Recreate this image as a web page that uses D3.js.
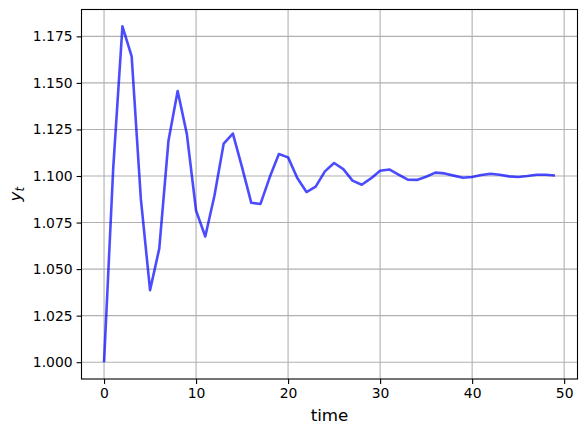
<!DOCTYPE html>
<html>
<head>
<meta charset="utf-8">
<script src="https://cdn.jsdelivr.net/npm/d3@7"></script>
<style>
  body { margin: 0; background: #fff; }
  svg text { font-family: "DejaVu Sans", sans-serif; fill: #000; }
</style>
</head>
<body>
<div id="chart"></div>
<script>
// series values, t = 0..49
const timeSteps = d3.range(0, 50);
const yValues = [
  1.000, 1.1045, 1.1804, 1.1643, 1.0877, 1.0387, 1.0610, 1.1189, 1.1456, 1.1225,
  1.0814, 1.0675, 1.0895, 1.1174, 1.1228, 1.1046, 1.0856, 1.0850, 1.0993, 1.1118,
  1.1100, 1.0989, 1.0914, 1.0943, 1.1025, 1.1070, 1.1037, 1.0975, 1.0953, 1.0987,
  1.1028, 1.1035, 1.1007, 1.0980, 1.0979, 1.0996, 1.1018, 1.1014, 1.1002, 1.0991,
  1.0995, 1.1005, 1.1012, 1.1007, 1.0998, 1.0995, 1.1000, 1.1007, 1.1007, 1.1003
];
const xTicks = [0, 10, 20, 30, 40, 50];
const yTicks = [1.000, 1.025, 1.050, 1.075, 1.100, 1.125, 1.150, 1.175];

let width = 587,
    height = 433,
    margin = ({ top: 9.5, right: 9.5, bottom: 54, left: 81.5 });

const svg = d3.select("#chart")
    .append("svg")
    .attr("width", width)
    .attr("height", height);

const data = timeSteps.map((t, i) => ({ t: t, y: yValues[i] }));

// matplotlib style 5% padding around the data
let xPad = (d3.max(timeSteps) - d3.min(timeSteps)) * 0.05;
let yPad = (d3.max(yValues) - d3.min(yValues)) * 0.05;

let x = d3.scaleLinear()
    .domain([d3.min(timeSteps) - xPad, d3.max(timeSteps) + xPad])
    .range([margin.left, width - margin.right]);

let y = d3.scaleLinear()
    .domain([d3.min(yValues) - yPad, d3.max(yValues) + yPad])
    .range([height - margin.bottom, margin.top]);

// grid
svg.append("g")
    .selectAll("line")
    .data(xTicks)
    .join("line")
    .attr("x1", d => x(d)).attr("x2", d => x(d))
    .attr("y1", margin.top).attr("y2", height - margin.bottom)
    .attr("stroke", "#b0b0b0")
    .attr("stroke-width", 1.1);

svg.append("g")
    .selectAll("line")
    .data(yTicks)
    .join("line")
    .attr("x1", margin.left).attr("x2", width - margin.right)
    .attr("y1", d => y(d)).attr("y2", d => y(d))
    .attr("stroke", "#b0b0b0")
    .attr("stroke-width", 1.1);

// the line
let line = d3.line()
    .x(d => x(d.t))
    .y(d => y(d.y));

svg.append("path")
    .datum(data)
    .attr("fill", "none")
    .attr("stroke", "blue")
    .attr("stroke-opacity", 0.7)
    .attr("stroke-width", 2.6)
    .attr("stroke-linejoin", "round")
    .attr("d", line);

// axes
const xAxis = svg.append("g")
    .attr("transform", `translate(0,${height - margin.bottom})`)
    .call(d3.axisBottom(x).tickValues(xTicks).tickSize(4.9).tickPadding(4).tickSizeOuter(0));

const yAxis = svg.append("g")
    .attr("transform", `translate(${margin.left},0)`)
    .call(d3.axisLeft(y).tickValues(yTicks).tickFormat(d3.format(".3f")).tickSize(4.9).tickPadding(4).tickSizeOuter(0));

[xAxis, yAxis].forEach(g => {
  g.select(".domain").remove();
  g.selectAll(".tick line").attr("stroke", "#000").attr("stroke-width", 1.1);
  g.selectAll(".tick text").attr("font-size", 13.9).attr("font-family", "DejaVu Sans");
});

// frame
svg.append("rect")
    .attr("x", margin.left)
    .attr("y", margin.top)
    .attr("width", width - margin.left - margin.right)
    .attr("height", height - margin.top - margin.bottom)
    .attr("fill", "none")
    .attr("stroke", "#000")
    .attr("stroke-width", 1.1);

// axis labels
svg.append("text")
    .attr("x", (margin.left + width - margin.right) / 2)
    .attr("y", 421)
    .attr("text-anchor", "middle")
    .attr("font-size", 16.7)
    .text("time");

const yl = svg.append("text")
    .attr("transform", `translate(21,${(margin.top + height - margin.bottom) / 2}) rotate(-90)`)
    .attr("text-anchor", "middle")
    .attr("font-size", 16.7);
yl.append("tspan").attr("font-style", "italic").text("y");
yl.append("tspan").attr("font-style", "italic").attr("font-size", 11.7).attr("dy", 3).text("t");
</script>
</body>
</html>
